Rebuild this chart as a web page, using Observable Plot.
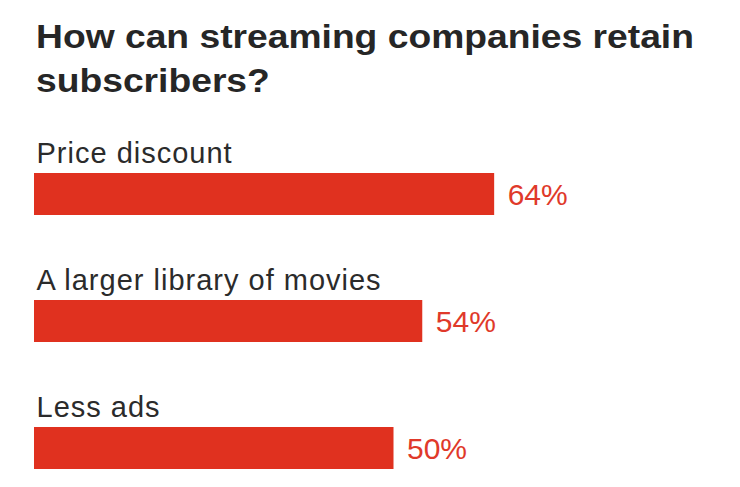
<!DOCTYPE html>
<html>
<head>
<meta charset="utf-8">
<script src="https://cdn.jsdelivr.net/npm/d3@7"></script>
<script src="https://cdn.jsdelivr.net/npm/@observablehq/plot@0.6"></script>
<style>
  html, body { margin: 0; padding: 0; background: #fff; }
  body { width: 740px; height: 487px; overflow: hidden; font-family: "Liberation Sans", Arial, Helvetica, sans-serif; }
  #title { box-sizing: border-box; height: 125px; padding: 14px 0 0 36px; margin: 0; font-size: 34px; line-height: 44px; font-weight: bold; color: #262626; white-space: nowrap; }
  #title span { display: inline-block; transform: scaleX(1.095); transform-origin: 0 50%; }
  #chart svg { display: block; }
</style>
</head>
<body>
<h1 id="title"><span>How can streaming companies retain<br>subscribers?</span></h1>
<div id="chart"></div>
<script>
const categories = ["Price discount", "A larger library of movies", "Less ads"];
const values = [64, 54, 50];

const data = categories.map((c, i) => ({category: c, value: values[i]}));

const chart = Plot.plot({
  width: 740,
  height: 362,
  margin: 0,
  style: {fontFamily: '"Liberation Sans", Arial, sans-serif', background: "#fff"},
  x: {domain: [0, 100], range: [34, 753], axis: null},
  y: {domain: categories, range: [47, 344], paddingInner: 0.6706, paddingOuter: 0, axis: null},
  marks: [
    Plot.barX(data, {x: "value", y: "category", fill: "#e0311f"}),
    Plot.text(data, {x: 0, y: "category", text: "category", textAnchor: "start", lineAnchor: "bottom", dx: 2, dy: -31.5, fontSize: 29, fill: "#2b2b2b"}),
    Plot.text(data, {x: "value", y: "category", text: d => d.value + "%", textAnchor: "start", lineAnchor: "middle", dx: 13, dy: 1, fontSize: 30, fill: "#e0392a"})
  ]
});
chart.querySelectorAll("g[aria-label='text']")[0]?.setAttribute("letter-spacing", "1");
document.getElementById("chart").appendChild(chart);
</script>
</body>
</html>
